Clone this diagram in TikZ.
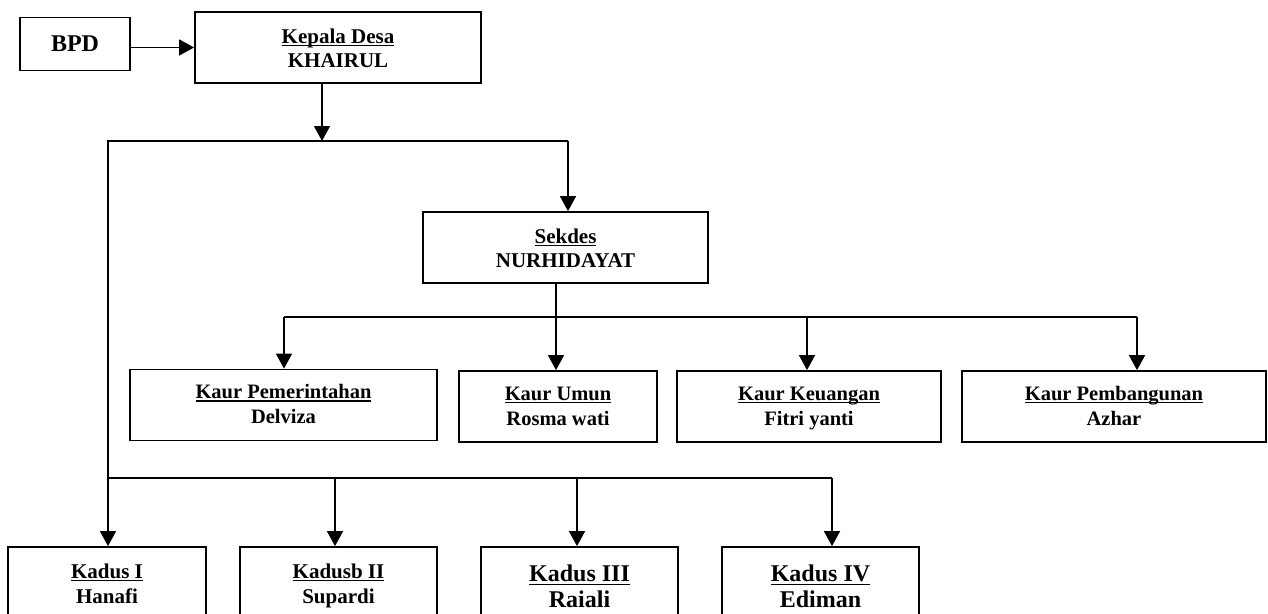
\documentclass[tikz,border=0pt]{standalone}
\usepackage{fontspec}
\setmainfont{Liberation Serif}
\usetikzlibrary{arrows.meta,calc}
\newcommand\myul[1]{\setbox0\hbox{#1}\rlap{\rule[-3.2pt]{\wd0}{1.5pt}}\box0}
\newcommand\firstln[2]{\rule{0pt}{#1em}\myul{#2}}
\newcommand\lastln[1]{#1\vphantom{gy}}
\begin{document}
\begin{tikzpicture}[x=1pt,y=-1pt,
  box/.style={draw, line width=1.8pt, inner sep=0pt, align=center, minimum height=71pt},
  fa/.style={font=\fontsize{24}{26}\selectfont\bfseries},
  fb/.style={font=\fontsize{21}{24}\selectfont\bfseries},
  fc/.style={font=\fontsize{20.5}{25}\selectfont\bfseries},
  fd/.style={font=\fontsize{21}{25}\selectfont\bfseries},
  fe/.style={font=\fontsize{24}{26}\selectfont\bfseries},
  arr/.style={line width=1.6pt, -{Triangle[length=15pt,width=16pt]}},
  ln/.style={line width=1.6pt}]
\clip (0,0) rectangle (1268,613);
\fill[white] (0,0) rectangle (1268,613);
% nodes
\node[box, fa, minimum width=110pt, minimum height=53pt] (bpd) at (75,44) {BPD};
\node[box, fb, minimum width=286pt] (kep) at (338,47.5) {\firstln{0.96}{Kepala Desa}\\\lastln{KHAIRUL}};
\node[box, fb, minimum width=285pt] (sek) at (565.5,247.5) {\firstln{0.96}{Sekdes}\\\lastln{NURHIDAYAT}};
\node[box, fc, minimum width=307pt] (pem) at (283.5,405) {\firstln{0.83}{Kaur Pemerintahan}\\\lastln{Delviza}};
\node[box, fc, minimum width=198pt] (umu) at (558,406.5) {\firstln{0.83}{Kaur Umun}\\\lastln{Rosma wati}};
\node[box, fc, minimum width=264pt] (keu) at (809,406.5) {\firstln{0.83}{Kaur Keuangan}\\\lastln{Fitri yanti}};
\node[box, fc, minimum width=304pt] (pba) at (1114,406.5) {\firstln{0.83}{Kaur Pembangunan}\\\lastln{Azhar}};
\node[box, fd, minimum width=198pt] (k1) at (107,582.5) {\firstln{0.99}{Kadus I}\\\lastln{Hanafi}};
\node[box, fd, minimum width=197pt] (k2) at (338.5,582.5) {\firstln{0.99}{Kadusb II}\\\lastln{Supardi}};
\node[box, fe, minimum width=197pt] (k3) at (579.5,582.5) {\firstln{1.25}{Kadus III}\\\lastln{Raiali}};
\node[box, fe, minimum width=197pt] (k4) at (820.5,582.5) {\firstln{1.25}{Kadus IV}\\\lastln{Ediman}};
% junction coordinates
\coordinate (ka) at (322,141);
\coordinate (tl) at (108,141);
\coordinate (tr) at (568,141);
\coordinate (bl) at (108,478);
\coordinate (b2) at (335,478);
\coordinate (b3) at (577,478);
\coordinate (br) at (832,478);
\coordinate (s0) at (556,317);
\coordinate (sl) at (284,317);
\coordinate (s3) at (807,317);
\coordinate (sr) at (1137,317);
% connectors
\draw[arr] (bpd.east |- kep.west) -- (kep.west);
\draw[arr] (ka |- kep.south) -- (ka);
\draw[ln] (bl) -- (tl) -- (tr);
\draw[arr] (tr) -- (tr |- sek.north);
\draw[ln] (bl) -- (br);
\draw[arr] (bl) -- (bl |- k1.north);
\draw[arr] (b2) -- (b2 |- k2.north);
\draw[arr] (b3) -- (b3 |- k3.north);
\draw[arr] (br) -- (br |- k4.north);
\draw[ln] (s0 |- sek.south) -- (s0);
\draw[ln] (sl) -- (sr);
\draw[arr] (sl) -- (sl |- pem.north);
\draw[arr] (s0) -- (s0 |- umu.north);
\draw[arr] (s3) -- (s3 |- keu.north);
\draw[arr] (sr) -- (sr |- pba.north);
\end{tikzpicture}
\end{document}
